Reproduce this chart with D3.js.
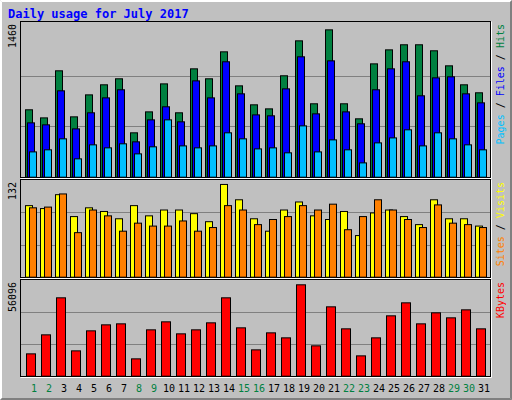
<!DOCTYPE html>
<html><head><meta charset="utf-8">
<script src="https://cdn.jsdelivr.net/npm/d3@7"></script>
<style>body{margin:0;background:#fff}svg{display:block}</style>
</head><body><svg id="c" width="512" height="400"></svg>
<script>
const days = d3.range(1, 32);
const weekends = [1,2,8,9,15,16,22,23,29,30];
const hits = [650,572,1026,582,794,891,949,428,630,900,621,1045,949,1209,881,698,659,978,1315,708,1421,708,563,1093,1228,1277,1277,1219,1074,891,814];
const files = [524,505,833,466,621,765,843,341,553,679,534,929,765,1113,804,601,592,852,1161,611,1122,630,515,843,1045,1113,785,958,968,804,717];
const pages = [244,264,370,177,312,283,322,225,293,553,302,283,302,428,370,273,283,235,495,244,360,264,138,331,379,457,302,428,370,312,264];
const visits = [98,94,113,83,95,90,80,98,84,92,92,87,76,127,106,80,63,92,103,84,79,90,57,88,92,83,72,106,80,80,70];
const sites = [95,96,114,61,92,84,63,74,70,70,77,63,68,98,92,72,79,83,98,92,100,65,83,106,92,79,68,99,74,72,68];
const kbytes = [13140,24320,46090,14900,26670,30200,30790,10200,27260,31970,24910,27260,31380,46090,28440,15490,25490,22550,53740,17850,40790,27850,11960,22550,35500,43140,30790,37260,34320,39020,27850];
const maxLabels = ["1460","132","56096"];

const svg = d3.select("#c");
const mono = "DejaVu Sans Mono, monospace";
svg.append("rect").attr("width",512).attr("height",400).attr("fill","#c0c0c0");
// outer bevel
svg.append("path").attr("d","M0.5,399.5V0.5H511.5").attr("stroke","#fff").attr("fill","none");
svg.append("path").attr("d","M0.5,399.5H511.5V0.5").attr("stroke","#808080").attr("fill","none");
svg.append("path").attr("d","M1.5,398.5V1.5H510.5").attr("stroke","#fff").attr("fill","none");
svg.append("path").attr("d","M1.5,398.5H510.5V1.5").attr("stroke","#808080").attr("fill","none");

svg.append("text").attr("x",8).attr("y",18).attr("fill","#0000ff").attr("font-family",mono)
  .attr("font-weight","bold").attr("font-size",12).text("Daily usage for July 2017");

const x = d3.scaleLinear().domain([1,31]).range([25,475]);

const panels = [
  {top:21, bottom:177, yTop:25.3, max:1460, series:[[hits,"#008040",0,8],[files,"#0000ff",2,8],[pages,"#00c0ff",4,8]],
   label:[["Pages","#00c0ff"],[" / ","#000"],["Files","#0000ff"],[" / ","#000"],["Hits","#008040"]]},
  {top:179, bottom:277, yTop:180.3, max:132, series:[[visits,"#ffff00",0,8],[sites,"#ff8000",4,8]],
   label:[["Sites","#ff8000"],[" / ","#000"],["Visits","#ffff00"]]},
  {top:279, bottom:376, yTop:280.3, max:56096, series:[[kbytes,"#ff0000",1,10]],
   label:[["KBytes","#ff0000"]]}
];

panels.forEach((p,pi)=>{
  const y = d3.scaleLinear().domain([0,p.max]).range([p.bottom-0.3,p.yTop]);
  svg.append("rect").attr("x",20.5).attr("y",p.top+0.5).attr("width",470).attr("height",p.bottom-p.top)
    .attr("fill","none").attr("stroke","#000");
  svg.append("path").attr("d",`M20.5,${p.bottom+1.5}H491.5V${p.top+0.5}`).attr("stroke","#fff").attr("fill","none");
  const ticks = pi===0 ? [1/3,2/3] : [1/3,2/3];
  ticks.forEach(f=>{
    const yy = Math.round(y(p.max*f))+0.5;
    svg.append("line").attr("x1",21).attr("x2",490).attr("y1",yy).attr("y2",yy).attr("stroke","#808080").attr("stroke-width",1.2);
  });
  p.series.forEach(([vals,col,off,w])=>{
    svg.append("g").selectAll("rect").data(days).join("rect")
      .attr("x",d=>x(d)+off+0.5).attr("width",w-1)
      .attr("y",d=>y(vals[d-1])+0.5).attr("height",d=>y(0)-y(vals[d-1]))
      .attr("fill",col).attr("stroke","#000").attr("stroke-width",1);
  });
  svg.append("text").attr("transform",`translate(16,${p.top+3}) rotate(-90)`).attr("text-anchor","end")
    .attr("font-family",mono).attr("font-size",10).attr("fill","#000").text(maxLabels[pi]);
  const t = svg.append("text").attr("transform",`translate(504,${p.top+3}) rotate(-90)`).attr("text-anchor","end")
    .attr("font-family",mono).attr("font-size",10);
  p.label.forEach(([s,c])=>t.append("tspan").attr("fill",c).text(s));
});

svg.append("g").selectAll("text").data(days).join("text")
  .attr("x",d=>x(d)+9).attr("y",392).attr("text-anchor","middle")
  .attr("font-family",mono).attr("font-size",10)
  .attr("fill",d=>weekends.includes(d)?"#008040":"#000").text(d=>d);
</script></body></html>
